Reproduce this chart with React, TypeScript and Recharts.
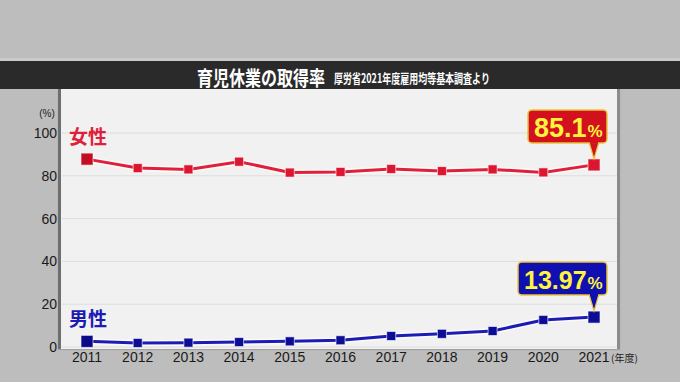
import React from 'react'
import { LineChart, Line, XAxis, YAxis, CartesianGrid } from 'recharts'

// 育児休業取得率（厚労省 雇用均等基本調査）
const years = ['2011', '2012', '2013', '2014', '2015', '2016', '2017', '2018', '2019', '2020', '2021']
const women = [87.8, 83.6, 83.0, 86.6, 81.5, 81.8, 83.2, 82.2, 83.0, 81.6, 85.1]
const men = [2.63, 1.89, 2.03, 2.3, 2.65, 3.16, 5.14, 6.16, 7.48, 12.65, 13.97]
const yTicks = [0, 20, 40, 60, 80, 100]

const data = years.map((y, i) => ({ year: y, women: women[i], men: men[i] }))
const last = years.length - 1

const JP = '"Noto Sans CJK JP", "Noto Sans", sans-serif'
const NUM = '"Liberation Sans", Arial, sans-serif'

const makeDot = (opts: {
  line: string
  mark: string
  first: string
  name: string
  box: string
  value: string
  boxLeft: number
  valueSize: number
}) => (props: any) => {
  const { cx, cy, index } = props
  if (cx == null || cy == null) return <g key={index} />
  const big = index === 0 || index === last
  const s = big ? 12 : 9
  return (
    <g key={index}>
      <rect
        x={cx - s / 2}
        y={cy - s / 2}
        width={s}
        height={s}
        fill={index === 0 ? opts.first : opts.mark}
        stroke="rgba(255,255,255,0.6)"
        strokeWidth={1}
      />
      {index === 0 && (
        <text x={cx + 1} y={cy - 24} textAnchor="middle" dominantBaseline="central"
          fontFamily={JP} fontWeight={700} fontSize={19} fill={opts.line}>
          {opts.name}
        </text>
      )}
      {index === last && (
        <g>
          <path
            d={`M${cx - 5},${cy - 23} L${cx + 5},${cy - 23} L${cx},${cy - 6} Z`}
            fill={opts.box}
            stroke="#e9c43c"
            strokeWidth={1.2}
          />
          <rect x={cx + opts.boxLeft} y={cy - 55} width={13 - opts.boxLeft} height={33} rx={4}
            fill={opts.box} stroke="#e9c43c" strokeWidth={1.5} />
          <rect x={cx - 4} y={cy - 24} width={8} height={3} fill={opts.box} />
          <text x={cx + opts.boxLeft + 6} y={cy - 28} fontFamily={NUM} fontWeight={700}
            fill="#fff43c" fontSize={opts.valueSize}>
            {opts.value}
            <tspan fontSize={17} dx={1}>%</tspan>
          </text>
        </g>
      )}
    </g>
  )
}

const womenDot = makeDot({
  line: '#e0203a', mark: '#dc1530', first: '#c40c22', name: '女性',
  box: '#d3101e', value: '85.1', boxLeft: -66, valueSize: 27,
})
const menDot = makeDot({
  line: '#1c1cb4', mark: '#0c0c94', first: '#0a0a88', name: '男性',
  box: '#1010b0', value: '13.97', boxLeft: -76, valueSize: 25,
})

export default function App() {
  return (
    <div style={{ position: 'absolute', left: 0, top: 0, width: 680, height: 382, background: '#bdbdbd', overflow: 'hidden' }}>
      <div style={{ position: 'absolute', left: 0, top: 58, width: 680, height: 3, background: '#cacaca' }} />
      <div style={{ position: 'absolute', left: 0, top: 61, width: 680, height: 28, background: '#2a2a2a' }} />
      <div style={{ position: 'absolute', left: 58, top: 89, width: 556, height: 260, background: '#f1f1f1',
        borderLeft: '3px solid #6e6e6e', borderRight: '3px solid #8c8c8c', boxShadow: '0 1px 1px rgba(0,0,0,0.15)' }} />
      <svg width={680} height={382} style={{ position: 'absolute', left: 0, top: 0 }}>
        <g transform="translate(197,76) scale(1,1.3)">
          <text x={0} y={0} dominantBaseline="central" fill="#ffffff" fontFamily={JP} fontWeight={700}
            fontSize={16}>育児休業の取得率</text>
        </g>
        <g transform="translate(334,77) scale(1,1.4)">
          <text x={0} y={0} dominantBaseline="central" fill="#ffffff" fontFamily={JP} fontWeight={700}
            fontSize={9}>厚労省2021年度雇用均等基本調査より</text>
        </g>
        <text x={47} y={113} textAnchor="middle" dominantBaseline="central" fill="#222" fontFamily={NUM} fontSize={10}>(%)</text>
        <text x={611} y={357} dominantBaseline="central" fill="#222" fontFamily={JP} fontSize={10}>(年度)</text>
      </svg>
      <div style={{ position: 'absolute', left: 0, top: 0 }}>
        <LineChart width={680} height={382} data={data} margin={{ top: 133, right: 63, bottom: 5, left: 12 }}>
          <CartesianGrid vertical={false} stroke="#dddddd" />
          <XAxis
            dataKey="year"
            axisLine={false}
            tickLine={false}
            tickSize={5}
            tickMargin={0}
            height={30}
            interval={0}
            padding={{ left: 25, right: 23 }}
            tick={{ fontSize: 14, fill: '#1a1a1a', fontFamily: NUM }}
          />
          <YAxis
            domain={[0, 100]}
            ticks={yTicks}
            axisLine={false}
            tickLine={false}
            tickSize={5}
            tickMargin={0}
            width={50}
            tick={{ fontSize: 14, fill: '#1a1a1a', fontFamily: NUM }}
          />
          <Line dataKey="women" stroke="rgba(255,255,255,0.7)" strokeWidth={6} dot={false} activeDot={false} isAnimationActive={false} />
          <Line dataKey="men" stroke="rgba(255,255,255,0.7)" strokeWidth={6} dot={false} activeDot={false} isAnimationActive={false} />
          <Line dataKey="women" stroke="#e0203a" strokeWidth={3} dot={womenDot} activeDot={false} isAnimationActive={false} />
          <Line dataKey="men" stroke="#1c1cb4" strokeWidth={3} dot={menDot} activeDot={false} isAnimationActive={false} />
        </LineChart>
      </div>
    </div>
  )
}
